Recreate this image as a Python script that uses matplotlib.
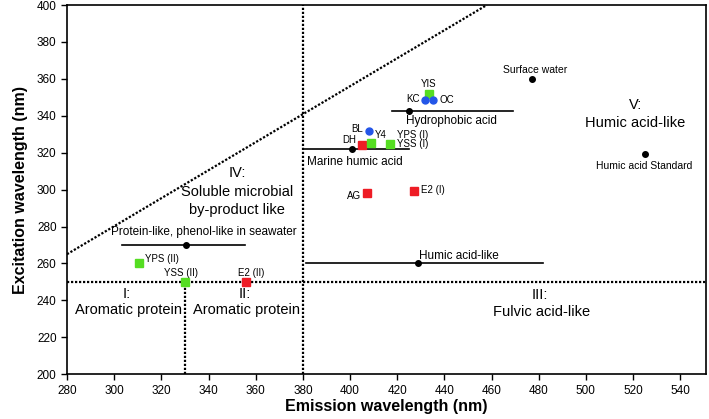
import matplotlib
matplotlib.use('Agg')
import matplotlib.pyplot as plt

plt.rcParams['font.family'] = ['Liberation Sans', 'DejaVu Sans']

# samples (square / circle markers)
red_names = ['DH', 'AG', 'E2 (I)', 'E2 (II)']
red_x = [405, 407, 427, 356]
red_y = [324, 298, 299.5, 250]

green_names = ['YIS', 'Y4', 'YSS (I)', 'YPS (II)', 'YSS (II)']
green_x = [433.5, 409, 417, 310.5, 330]
green_y = [352, 325, 324.5, 260.5, 250]

blue_names = ['KC', 'OC', 'BL']
blue_x = [432, 435, 408]
blue_y = [348.5, 348.5, 332]

# reference peaks (black dots), with ranges
ref_names = ['Surface water', 'Humic acid Standard', 'Hydrophobic acid',
             'Marine humic acid', 'Humic acid-like', 'Protein-like, phenol-like in seawater']
ref_x = [477, 525, 425, 401, 429, 330.5]
ref_y = [360, 319.5, 342.5, 322, 260, 270]
ref_lo = [None, None, 418, 380, 381.5, 303.5]
ref_hi = [None, None, 469, 425, 482, 355.5]

fig = plt.figure(figsize=(7.09, 4.19), dpi=100)
ax = fig.add_axes([0.0945, 0.107, 0.9015, 0.881])

dot = dict(color='black', linestyle=':', linewidth=1.6, dashes=(1, 0.8))
ax.plot([280, 551], [250, 250], **dot)
ax.plot([330, 330], [200, 250], **dot)
ax.plot([380, 380], [200, 400], **dot)
ax.plot([280, 458], [265, 400], **dot)

for i in range(len(ref_names)):
    if ref_lo[i] is not None:
        ax.plot([ref_lo[i], ref_hi[i]], [ref_y[i], ref_y[i]], color='black', linewidth=1.2)
    ax.plot(ref_x[i], ref_y[i], 'o', color='black', markersize=4)

ax.plot(red_x, red_y, 's', color='#ee1c25', markersize=6.2, linestyle='none')
ax.plot(green_x, green_y, 's', color='#55dd22', markersize=6.2, linestyle='none')
ax.plot(blue_x, blue_y, 'o', color='#2456e8', markersize=5, linestyle='none')

fs = 7
# sample labels
ax.text(399.5, 327, 'DH', fontsize=fs, ha='center', va='center')
ax.text(401.5, 296.5, 'AG', fontsize=fs, ha='center', va='center')
ax.text(430, 299.7, 'E2 (I)', fontsize=fs, ha='left', va='center')
ax.text(358, 255, 'E2 (II)', fontsize=fs, ha='center', va='center')
ax.text(433.5, 357, 'YIS', fontsize=fs, ha='center', va='center')
ax.text(413, 329.5, 'Y4', fontsize=fs, ha='center', va='center')
ax.text(420, 329.6, 'YPS (I)', fontsize=fs, ha='left', va='center')
ax.text(420, 324.6, 'YSS (I)', fontsize=fs, ha='left', va='center')
ax.text(313, 262.5, 'YPS (II)', fontsize=fs, ha='left', va='center')
ax.text(328.5, 255, 'YSS (II)', fontsize=fs, ha='center', va='center')
ax.text(429.5, 349, 'KC', fontsize=fs, ha='right', va='center')
ax.text(438, 348.5, 'OC', fontsize=fs, ha='left', va='center')
ax.text(405.5, 333, 'BL', fontsize=fs, ha='right', va='center')

# reference labels
ax.text(478.5, 364.8, 'Surface water', fontsize=7.5, ha='center', va='center')
ax.text(524.7, 313, 'Humic acid Standard', fontsize=7.5, ha='center', va='center')
ax.text(443, 337, 'Hydrophobic acid', fontsize=8.5, ha='center', va='center')
ax.text(402, 315, 'Marine humic acid', fontsize=8.5, ha='center', va='center')
ax.text(446, 264, 'Humic acid-like', fontsize=8.5, ha='center', va='center')
ax.text(338, 277, 'Protein-like, phenol-like in seawater', fontsize=8.5, ha='center', va='center')

# region labels
rfs = 10.5
ax.text(305.5, 243.5, 'I:', fontsize=rfs, ha='center', va='center')
ax.text(306, 234.7, 'Aromatic protein', fontsize=rfs, ha='center', va='center')
ax.text(355.5, 243.5, 'II:', fontsize=rfs, ha='center', va='center')
ax.text(356, 234.7, 'Aromatic protein', fontsize=rfs, ha='center', va='center')
ax.text(480.5, 243, 'III:', fontsize=rfs, ha='center', va='center')
ax.text(481, 233.6, 'Fulvic acid-like', fontsize=rfs, ha='center', va='center')
ax.text(352, 309, 'IV:', fontsize=rfs, ha='center', va='center')
ax.text(352, 298.6, 'Soluble microbial', fontsize=rfs, ha='center', va='center')
ax.text(352, 289, 'by-product like', fontsize=rfs, ha='center', va='center')
ax.text(521, 345.8, 'V:', fontsize=rfs, ha='center', va='center')
ax.text(521, 336, 'Humic acid-like', fontsize=rfs, ha='center', va='center')

ax.set_xlim(280, 551)
ax.set_ylim(200, 400)
ax.set_xticks(range(280, 541, 20))
ax.set_yticks(range(200, 401, 20))
ax.tick_params(direction='out', length=4, width=1, labelsize=8.5, colors='black')
for s in ax.spines.values():
    s.set_linewidth(1.2)
ax.set_xlabel('Emission wavelength (nm)', fontsize=11.5, fontweight='bold', labelpad=2)
ax.set_ylabel('Excitation wavelength (nm)', fontsize=11.5, fontweight='bold', labelpad=6)

fig.savefig('out.png', dpi=100)
